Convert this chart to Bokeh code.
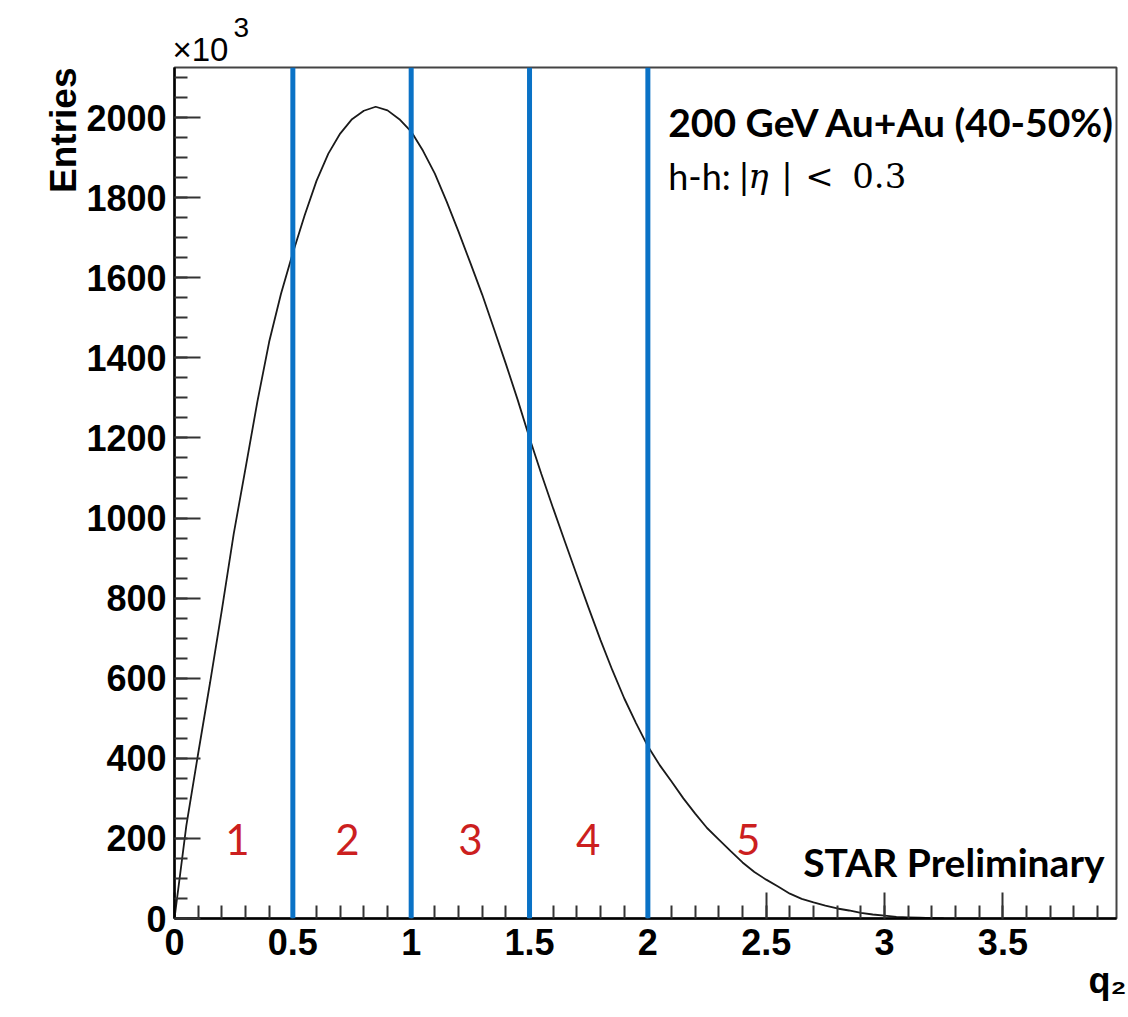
import math
from bokeh.plotting import figure
from bokeh.models import (Range1d, Span, Label, Title, SingleIntervalTicker,
                          CustomJSTickFormatter)
from bokeh.embed import file_html
from bokeh.resources import INLINE

# ---------------- data ----------------
q2 = [0.00, 0.05, 0.10, 0.15, 0.20, 0.25, 0.30, 0.35, 0.40, 0.45,
      0.50, 0.55, 0.60, 0.65, 0.70, 0.75, 0.80, 0.85, 0.90, 0.95,
      1.00, 1.05, 1.10, 1.15, 1.20, 1.25, 1.30, 1.35, 1.40, 1.45,
      1.50, 1.55, 1.60, 1.65, 1.70, 1.75, 1.80, 1.85, 1.90, 1.95,
      2.00, 2.05, 2.10, 2.15, 2.20, 2.25, 2.30, 2.35, 2.40, 2.45,
      2.50, 2.55, 2.60, 2.65, 2.70, 2.75, 2.80, 2.85, 2.90, 2.95,
      3.00, 3.05, 3.10, 3.15, 3.20, 3.25]
entries_k = [0, 232, 412, 588, 770, 960, 1124, 1290, 1440, 1560,
             1662, 1756, 1842, 1910, 1960, 1996, 2017, 2027, 2018, 1996,
             1965, 1917, 1860, 1790, 1715, 1637, 1558, 1472, 1385, 1295,
             1200, 1110, 1024, 940, 857, 775, 695, 620, 550, 488,
             430, 383, 342, 300, 262, 226, 197, 168, 140, 116,
             97, 80, 62, 49, 40, 32, 25, 20, 14, 10,
             7, 4, 3, 2, 1, 0]
boundaries = [0.5, 1.0, 1.5, 2.0]
region_names = ["1", "2", "3", "4", "5"]
title_line1 = "200 GeV Au+Au (40-50%)"
preliminary = "STAR Preliminary"
y_title = "Entries"
x_title = "q\u2082"
multiplier = "\u00d710"
multiplier_exp = "3"

# ---------------- layout / style ----------------
X_MAX = 3.98
Y_MAX = 2125
TICK_FONT = "Liberation Sans"
CAL = "Lato"

p = figure(width=1128, height=1009, output_backend="svg", toolbar_location=None,
           x_range=Range1d(0, X_MAX), y_range=Range1d(0, Y_MAX),
           min_border_left=174, min_border_right=12, min_border_top=67,
           min_border_bottom=91)
p.title.visible = False
p.background_fill_color = "white"
p.border_fill_color = "white"
p.outline_line_color = "#444444"
p.outline_line_width = 2
p.xgrid.visible = False
p.ygrid.visible = False

p.xaxis.ticker = SingleIntervalTicker(interval=0.5, num_minor_ticks=5)
p.yaxis.ticker = SingleIntervalTicker(interval=200, num_minor_ticks=4)
p.xaxis.formatter = CustomJSTickFormatter(code="return String(Number(tick.toFixed(2)));")
for ax in (p.xaxis, p.yaxis):
    ax.major_tick_in = 26
    ax.major_tick_out = 0
    ax.minor_tick_in = 13
    ax.minor_tick_out = 0
    ax.axis_line_color = "black"
    ax.axis_line_width = 2.5
    ax.major_tick_line_color = "#333333"
    ax.minor_tick_line_color = "#333333"
    ax.major_tick_line_width = 2
    ax.minor_tick_line_width = 2
    ax.major_label_text_font = TICK_FONT
    ax.major_label_text_font_style = "bold"
    ax.major_label_text_font_size = "36px"
    ax.major_label_text_color = "black"
p.yaxis.major_label_standoff = 8
p.xaxis.major_label_standoff = 10

# histogram curve
p.line(q2, entries_k, line_color="#1a1a1a", line_width=1.8)

# region boundaries
for b in boundaries:
    p.add_layout(Span(location=b, dimension="height", line_color="#0A72C6",
                      line_width=5))

# region numbers
label_x = [0.266, 0.731, 1.25, 1.748, 2.424]
for name, lx in zip(region_names, label_x):
    p.add_layout(Label(x=lx, y=197, text=name, text_align="center",
                       text_baseline="alphabetic", text_font=CAL,
                       text_font_size="42px", text_color="#CC1F1F"))

# annotations
p.add_layout(Label(x=2.086, y=1990, text=title_line1, text_font=CAL,
                   text_font_style="bold", text_font_size="39px",
                   text_color="black", text_baseline="alphabetic"))
p.add_layout(Label(x=2.086, y=1855, text="h-h:", text_font=CAL,
                   text_font_size="36px", text_color="black",
                   text_baseline="alphabetic"))
math_parts = [("|", 70, "normal"), ("\u03b7", 80, "italic"), ("|", 113, "normal"),
              ("<", 137, "normal"), ("0.3", 184, "normal")]
for txt, off, sty in math_parts:
    p.add_layout(Label(x=2.086, y=1855, x_offset=off, text=txt,
                       text_font="DejaVu Serif", text_font_style=sty,
                       text_font_size="34px", text_color="black",
                       text_baseline="alphabetic"))
p.add_layout(Label(x=2.656, y=140, text=preliminary, text_font=CAL,
                   text_font_style="bold", text_font_size="39px",
                   text_color="black", text_baseline="alphabetic"))

# axis titles and multiplier (in the borders)
p.add_layout(Title(text=multiplier, align="left", text_font=TICK_FONT,
                   text_font_style="normal", text_font_size="33px",
                   text_color="black", standoff=0, offset=-2), "above")
p.add_layout(Title(text=multiplier_exp, align="left", text_font=TICK_FONT,
                   text_font_style="normal", text_font_size="28px",
                   text_color="black", standoff=-16, offset=59), "above")
p.add_layout(Title(text=y_title, align="right", text_font=TICK_FONT,
                   text_font_style="bold", text_font_size="37px",
                   text_color="black", standoff=0), "left")
p.add_layout(Title(text=x_title, align="right", text_font=TICK_FONT,
                   text_font_style="bold", text_font_size="36px",
                   text_color="black", standoff=0, offset=-10), "below")

open("out.html", "w").write(file_html(p, INLINE))
